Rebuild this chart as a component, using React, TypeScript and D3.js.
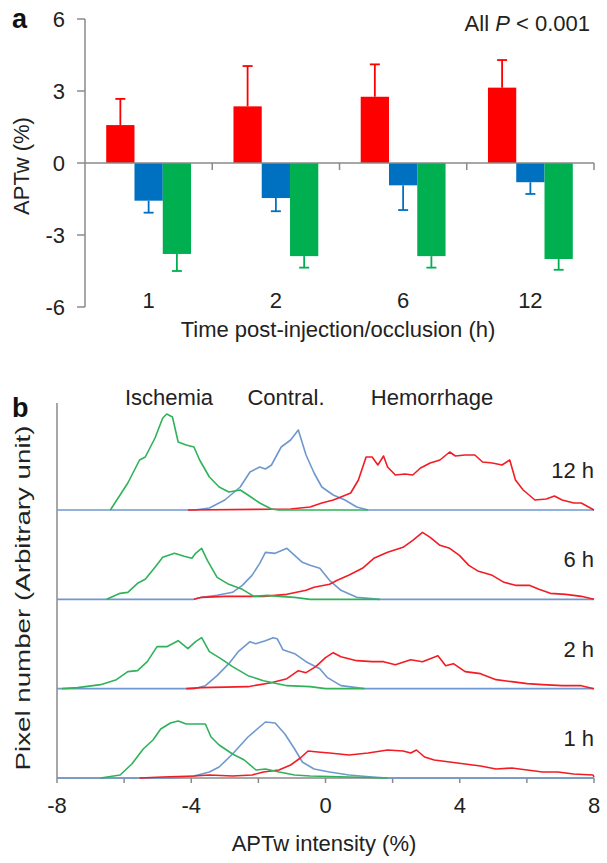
import React from 'react';
import * as d3 from 'd3';

// ---------- Panel a data ----------
const categories = ['1', '2', '6', '12'];
const hemorrhageMean = [1.58, 2.36, 2.76, 3.14];
const hemorrhageErr = [1.09, 1.68, 1.35, 1.15];
const contralMean = [-1.57, -1.46, -0.93, -0.8];
const contralErr = [0.5, 0.55, 1.03, 0.49];
const ischemiaMean = [-3.79, -3.88, -3.88, -4.0];
const ischemiaErr = [0.71, 0.48, 0.48, 0.45];
const yTicksA = [-6, -3, 0, 3, 6];

// ---------- Panel b data ----------
const timeLabels = ['12 h', '6 h', '2 h', '1 h'];
const groupNames = ['Ischemia', 'Contral.', 'Hemorrhage'];
const xTicksB = [-8, -6, -4, -2, 0, 2, 4, 6, 8];
const xLabelsB = [-8, -4, 0, 4, 8];

const green12: [number, number][] = [[-6.41,0],[-5.89,27],[-5.54,50],[-5.37,53],[-5.08,72],[-4.85,92],[-4.73,96],[-4.56,93],[-4.39,68],[-4.15,65],[-3.92,63],[-3.75,50],[-3.46,33],[-3.17,23],[-2.88,18],[-2.54,20],[-2.31,15],[-1.96,7],[-1.61,1],[-1.4,0],[1.27,0]];
const blue12: [number, number][] = [[-8,0],[-3.9,0],[-3.46,2],[-3.0,10],[-2.54,23],[-2.25,38],[-1.96,43],[-1.79,41],[-1.61,45],[-1.32,63],[-1.04,70],[-0.81,80],[-0.58,55],[-0.34,37],[-0.11,23],[0.23,15],[0.58,10],[0.93,3],[1.27,0],[8,0]];
const red12: [number, number][] = [[-4.1,0],[-1.04,1],[-0.46,3],[-0.11,7],[0.23,10],[0.46,13],[0.75,17],[0.98,30],[1.21,53],[1.39,53],[1.56,45],[1.73,54],[1.85,43],[2.08,35],[2.37,36],[2.6,35],[2.83,42],[3.12,47],[3.41,50],[3.7,58],[3.87,54],[4.16,55],[4.45,55],[4.68,48],[4.97,47],[5.26,45],[5.49,50],[5.66,30],[5.89,20],[6.24,10],[6.58,11],[6.82,14],[7.05,10],[7.4,7],[7.62,7],[8,0]];

const green6: [number, number][] = [[-6.52,0],[-6.12,6],[-5.89,7],[-5.6,16],[-5.37,20],[-5.08,32],[-4.85,42],[-4.5,46],[-4.21,43],[-3.98,41],[-3.87,46],[-3.69,51],[-3.52,39],[-3.23,22],[-2.88,15],[-2.48,10],[-2.13,3],[-1.73,4],[-1.39,3],[-0.92,2],[-0.46,0],[1.62,0]];
const blue6: [number, number][] = [[-8,0],[-3.92,0],[-3.69,2],[-3.23,4],[-2.77,7],[-2.48,14],[-2.19,24],[-1.96,36],[-1.79,47],[-1.5,46],[-1.15,51],[-0.92,44],[-0.69,37],[-0.46,34],[-0.17,31],[0.12,19],[0.46,9],[0.93,2],[1.62,0],[8,0]];
const red6: [number, number][] = [[-3.92,0],[-3.69,2],[-3.0,3],[-2.54,3],[-1.85,3],[-1.15,5],[-0.58,9],[-0.34,12],[0.12,15],[0.35,19],[0.69,24],[1.1,31],[1.44,41],[1.85,47],[2.31,52],[2.6,59],[2.89,67],[3.12,62],[3.41,54],[3.7,51],[3.99,44],[4.27,34],[4.56,28],[4.97,24],[5.32,17],[5.66,14],[6.07,14],[6.36,10],[6.7,6],[7.16,5],[7.62,3],[8,0]];

const green2: [number, number][] = [[-7.85,0],[-7.39,1],[-6.7,4],[-6.23,9],[-5.89,17],[-5.6,18],[-5.31,27],[-5.02,42],[-4.73,42],[-4.39,48],[-4.1,40],[-3.87,47],[-3.69,51],[-3.46,37],[-3.12,30],[-2.77,22],[-2.31,13],[-1.85,8],[-1.15,3],[-0.46,2],[0,0],[1.16,0]];
const blue2: [number, number][] = [[-8,0],[-3.92,0],[-3.58,3],[-3.23,13],[-2.88,25],[-2.6,37],[-2.25,47],[-2.08,45],[-1.79,48],[-1.56,51],[-1.44,50],[-1.27,39],[-0.92,35],[-0.58,27],[-0.17,20],[0.06,11],[0.46,3],[1.16,0],[8,0]];
const red2: [number, number][] = [[-4.15,0],[-3.69,1],[-2.31,2],[-1.62,6],[-1.15,10],[-0.81,18],[-0.58,16],[-0.29,22],[0,31],[0.23,36],[0.46,32],[0.93,28],[1.39,27],[1.73,27],[2.08,24],[2.54,29],[2.89,27],[3.35,33],[3.58,23],[3.81,25],[4.16,17],[4.62,15],[5.08,9],[5.55,7],[6.01,5],[6.47,4],[7.05,3],[7.62,3],[8,0]];

const green1: [number, number][] = [[-6.7,0],[-6.12,3],[-5.77,14],[-5.43,29],[-5.14,38],[-4.91,49],[-4.62,55],[-4.39,57],[-4.15,54],[-3.58,54],[-3.41,41],[-3.17,33],[-2.77,24],[-2.42,18],[-2.07,8],[-1.79,9],[-1.38,6],[-0.92,3],[-0.46,2],[0.7,1],[1.85,0]];
const blue1: [number, number][] = [[-8,0],[-4.5,0],[-3.92,2],[-3.46,6],[-3.17,11],[-2.77,24],[-2.31,41],[-1.79,56],[-1.5,55],[-1.21,44],[-0.92,29],[-0.69,16],[-0.34,9],[0.12,6],[0.7,3],[1.39,1],[1.85,0],[8,0]];
const red1: [number, number][] = [[-5.54,0],[-4.85,1],[-3.92,2],[-3.46,3],[-2.77,2],[-2.19,3],[-1.85,6],[-1.39,8],[-1.04,13],[-0.75,20],[-0.52,27],[-0.23,26],[0.12,25],[0.7,23],[1.27,25],[1.85,28],[2.31,27],[2.54,25],[2.71,28],[2.95,21],[3.24,18],[3.7,16],[4.16,14],[4.62,12],[5.08,9],[5.55,10],[6.01,8],[6.47,6],[6.93,6],[7.39,4],[7.97,3],[8,1]];

const ischemiaCurves = [green12, green6, green2, green1];
const contralCurves = [blue12, blue6, blue2, blue1];
const hemorrhageCurves = [red12, red6, red2, red1];

// ---------- Styling ----------
const FONT = '"Liberation Sans", Arial, sans-serif';
const AXIS = '#8a8a8a';
const RED_A = '#ff0000';
const BLUE_A = '#0070c0';
const GREEN_A = '#00b050';
const RED_B = '#f21c24';
const BLUE_B = '#6f98cf';
const GREEN_B = '#2fb259';

export default function App() {
  const W = 607;
  const H = 863;

  // Panel a scales
  const xBand = d3.scaleBand<string>().domain(categories).range([85, 594]).paddingInner(0).paddingOuter(0);
  const yA = d3.scaleLinear().domain([-6, 6]).range([307, 19]);
  const bw = xBand.bandwidth() / 4.5;
  const seriesA = [
    { mean: hemorrhageMean, err: hemorrhageErr, color: RED_A },
    { mean: contralMean, err: contralErr, color: BLUE_A },
    { mean: ischemiaMean, err: ischemiaErr, color: GREEN_A },
  ];

  // Panel b scales
  const xB = d3.scaleLinear().domain([-8, 8]).range([57, 594]);
  const baseY = d3.scalePoint<string>().domain(timeLabels).range([510, 778]);
  const line = (base: number) =>
    d3.line<[number, number]>().x((d) => xB(d[0])).y((d) => base - d[1]);

  const bandEdges = categories.map((c) => (xBand(c) as number) + xBand.bandwidth());
  const axisB = baseY('1 h') as number;

  return (
    <svg width={W} height={H} style={{ position: 'absolute', left: 0, top: 0, background: '#fff' }} fontFamily={FONT}>
      <rect x={0} y={0} width={W} height={H} fill="#fff" />
      {/* ---------------- Panel a ---------------- */}
      <text x={12} y={28} fontSize={27} fontWeight="bold" fill="#111">a</text>
      <line x1={85} x2={85} y1={yA(6)} y2={yA(-6)} stroke={AXIS} strokeWidth={1.5} />
      {yTicksA.map((t) => (
        <g key={t}>
          <line x1={77} x2={85} y1={yA(t)} y2={yA(t)} stroke={AXIS} strokeWidth={1.5} />
          <text x={65} y={yA(t)} dy="0.36em" textAnchor="end" fontSize={22} fill="#222">{t}</text>
        </g>
      ))}
      {categories.map((c, i) => {
        const x0 = (xBand(c) as number) + (xBand.bandwidth() - 3 * bw) / 2;
        return (
          <g key={c}>
            {seriesA.map((s, j) => {
              const v = s.mean[i];
              const xL = x0 + j * bw;
              const cx = xL + bw / 2;
              const yTop = Math.min(yA(v), yA(0));
              const h = Math.abs(yA(v) - yA(0));
              const ve = v >= 0 ? v + s.err[i] : v - s.err[i];
              return (
                <g key={j}>
                  <rect x={xL} y={yTop} width={bw} height={h} fill={s.color} />
                  <line x1={cx} x2={cx} y1={yA(v)} y2={yA(ve)} stroke={s.color} strokeWidth={1.8} />
                  <line x1={cx - 5} x2={cx + 5} y1={yA(ve)} y2={yA(ve)} stroke={s.color} strokeWidth={1.8} />
                </g>
              );
            })}
          </g>
        );
      })}
      <line x1={85} x2={594} y1={yA(0)} y2={yA(0)} stroke={AXIS} strokeWidth={1.5} />
      {bandEdges.map((x, i) => (
        <line key={i} x1={x} x2={x} y1={yA(0)} y2={yA(0) + 7} stroke={AXIS} strokeWidth={1.5} />
      ))}
      {categories.map((c) => (
        <text key={c} x={(xBand(c) as number) + xBand.bandwidth() / 2} y={308} textAnchor="middle" fontSize={22} fill="#222">{c}</text>
      ))}
      <text x={338} y={337} textAnchor="middle" fontSize={22} fill="#222">Time post-injection/occlusion (h)</text>
      <text transform={`translate(29,166) rotate(-90)`} textAnchor="middle" fontSize={22} fill="#222">APTw (%)</text>
      <text x={590} y={31} textAnchor="end" fontSize={22} fill="#222">
        All <tspan fontStyle="italic">P</tspan> &lt; 0.001
      </text>

      {/* ---------------- Panel b ---------------- */}
      <text x={12} y={417} fontSize={27} fontWeight="bold" fill="#111">b</text>
      <text x={169} y={405} textAnchor="middle" fontSize={22} fill="#222">{groupNames[0]}</text>
      <text x={286} y={405} textAnchor="middle" fontSize={22} fill="#222">{groupNames[1]}</text>
      <text x={432} y={405} textAnchor="middle" fontSize={22} fill="#222">{groupNames[2]}</text>
      <line x1={57} x2={57} y1={403} y2={axisB} stroke={AXIS} strokeWidth={1.5} />
      <line x1={57} x2={594} y1={axisB} y2={axisB} stroke={AXIS} strokeWidth={1.5} />
      {xTicksB.map((t) => (
        <line key={t} x1={xB(t)} x2={xB(t)} y1={axisB} y2={axisB + 5} stroke={AXIS} strokeWidth={1.5} />
      ))}
      {xLabelsB.map((t) => (
        <text key={t} x={xB(t)} y={813} textAnchor="middle" fontSize={22} fill="#222">{t}</text>
      ))}
      {timeLabels.map((lab, i) => {
        const base = baseY(lab) as number;
        return (
          <g key={lab}>
            <path d={line(base)(contralCurves[i]) || ''} fill="none" stroke={BLUE_B} strokeWidth={1.6} strokeLinejoin="round" />
            <path d={line(base)(hemorrhageCurves[i]) || ''} fill="none" stroke={RED_B} strokeWidth={1.6} strokeLinejoin="round" />
            <path d={line(base)(ischemiaCurves[i]) || ''} fill="none" stroke={GREEN_B} strokeWidth={1.6} strokeLinejoin="round" />
            <text x={594} y={base - 32} textAnchor="end" fontSize={22} fill="#222">{lab}</text>
          </g>
        );
      })}
      <text x={324} y={851} textAnchor="middle" fontSize={22} fill="#222">APTw intensity (%)</text>
      <text transform={`translate(30,598) rotate(-90)`} textAnchor="middle" fontSize={21} fill="#222" textLength={345} lengthAdjust="spacingAndGlyphs">Pixel number (Arbitrary unit)</text>
    </svg>
  );
}
